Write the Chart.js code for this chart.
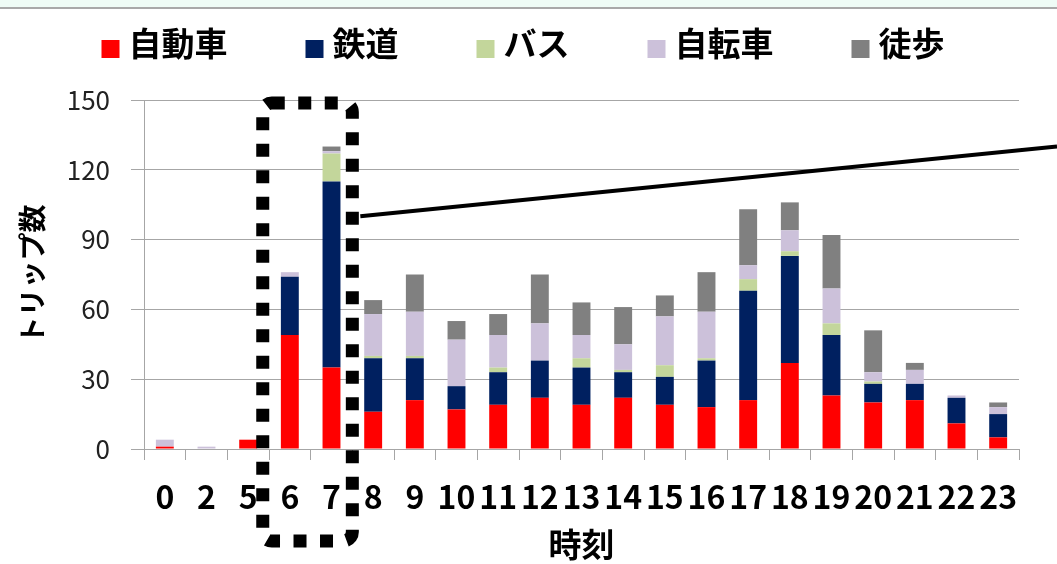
<!DOCTYPE html>
<html lang="ja">
<head>
<meta charset="utf-8">
<title>時刻別トリップ数</title>
<script src="https://cdn.jsdelivr.net/npm/chart.js@4.4.1/dist/chart.umd.min.js"></script>
<style>
  html, body { margin: 0; padding: 0; background: #ffffff; }
  body { width: 1057px; height: 564px; position: relative; overflow: hidden; }
  #band { position: absolute; left: 0; top: 0; width: 1057px; height: 7px;
          background: #effcf6; border-bottom: 2px solid #a9a9a9; }
  #wrap { position: absolute; left: 0; top: 0; width: 1057px; height: 564px; }
</style>
</head>
<body>
<div id="band"></div>
<div id="wrap"><canvas id="chart" width="1057" height="564"></canvas></div>
<script>
// 時刻（カテゴリ）
const hours = ['0', '2', '5', '6', '7', '8', '9', '10', '11', '12', '13', '14', '15', '16', '17', '18', '19', '20', '21', '22', '23'];

// 交通手段別トリップ数
const car     = [1, 0, 4, 49, 35, 16, 21, 17, 19, 22, 19, 22, 19, 18, 21, 37, 23, 20, 21, 11, 5];
const rail    = [0, 0, 0, 25, 80, 23, 18, 10, 14, 16, 16, 11, 12, 20, 47, 46, 26, 8, 7, 11, 10];
const bus     = [0, 0, 0, 0, 12, 1, 1, 0, 2, 0, 4, 1, 5, 1, 5, 2, 5, 1, 0, 0, 0];
const bicycle = [3, 1, 0, 2, 1, 18, 19, 20, 14, 16, 10, 11, 21, 20, 6, 9, 15, 4, 6, 1, 3];
const walk    = [0, 0, 0, 0, 2, 6, 16, 8, 9, 21, 14, 16, 9, 17, 24, 12, 23, 18, 3, 0, 2];

// 縦軸目盛
const yTicks = [0, 30, 60, 90, 120, 150];

// 強調する時間帯と引き出し線の高さ（値）
const highlightHours = ['6', '7'];
const calloutFrom = 100;
const calloutTo = 130;

const FONT = '"Noto Sans CJK JP", "Noto Sans", sans-serif';
const GRID = '#a6a6a6';

// 凡例（グラフ上部に1行で描画）
const legendRow = {
  id: 'legendRow',
  afterDraw(chart) {
    const ctx = chart.ctx;
    const size = 33, box = 18, gap = 9, spacing = 78;
    const centerX = 523, textY = 43, boxTop = 40;
    ctx.save();
    ctx.font = `bold ${size}px ${FONT}`;
    const items = chart.data.datasets.map(ds => ({
      text: ds.label, color: ds.backgroundColor, w: ctx.measureText(ds.label).width
    }));
    const total = items.reduce((s, it) => s + box + gap + it.w, 0) + spacing * (items.length - 1);
    let x = centerX - total / 2;
    ctx.textBaseline = 'middle';
    ctx.textAlign = 'left';
    for (const it of items) {
      ctx.fillStyle = it.color;
      ctx.fillRect(x, boxTop, box, box);
      ctx.fillStyle = '#000000';
      ctx.fillText(it.text, x + box + gap, textY);
      x += box + gap + it.w + spacing;
    }
    ctx.restore();
  }
};

// 強調枠（点線）と引き出し線
const highlight = {
  id: 'highlight',
  afterDraw(chart) {
    const {ctx, scales: {x, y}} = chart;
    const i0 = hours.indexOf(highlightHours[0]);
    const i1 = hours.indexOf(highlightHours[highlightHours.length - 1]);
    const step = x.getPixelForValue(1) - x.getPixelForValue(0);
    const left = x.getPixelForValue(i0) - 0.65 * step;
    const right = x.getPixelForValue(i1) + 0.5 * step;
    const top = y.getPixelForValue(yTicks[yTicks.length - 1]) + 3;
    const bottom = y.getPixelForValue(0) + 92;
    ctx.save();
    ctx.strokeStyle = '#000000';
    ctx.lineWidth = 13;
    ctx.setLineDash([13, 13.5]);
    ctx.beginPath();
    ctx.roundRect(left, top, right - left, bottom - top, 9);
    ctx.stroke();
    ctx.setLineDash([]);
    ctx.lineWidth = 4;
    ctx.beginPath();
    ctx.moveTo(right + 8, y.getPixelForValue(calloutFrom));
    ctx.lineTo(chart.width, y.getPixelForValue(calloutTo));
    ctx.stroke();
    ctx.restore();
  }
};

new Chart(document.getElementById('chart'), {
  type: 'bar',
  data: {
    labels: hours,
    datasets: [
      { label: '自動車', data: car,     backgroundColor: '#ff0000' },
      { label: '鉄道',   data: rail,    backgroundColor: '#002060' },
      { label: 'バス',   data: bus,     backgroundColor: '#c3d69b' },
      { label: '自転車', data: bicycle, backgroundColor: '#ccc1da' },
      { label: '徒歩',   data: walk,    backgroundColor: '#808080' }
    ]
  },
  options: {
    responsive: false,
    animation: false,
    devicePixelRatio: 1,
    layout: { padding: { top: 100, right: 38, bottom: 0, left: 0 } },
    datasets: { bar: { barPercentage: 0.43, categoryPercentage: 1.0, borderWidth: 0 } },
    plugins: {
      legend: { display: false },
      tooltip: { enabled: false }
    },
    scales: {
      x: {
        stacked: true,
        afterFit(scale) { scale.height = 115; },
        grid: { display: true, offset: true, drawOnChartArea: false, drawTicks: true,
                tickLength: 11, color: GRID, lineWidth: 1 },
        border: { display: true, color: GRID, width: 1 },
        ticks: { color: '#000000', padding: 18, maxRotation: 0, autoSkip: false,
                 font: { family: FONT, size: 32, weight: 'bold', lineHeight: 1.2 } },
        title: { display: true, text: '時刻', color: '#000000', padding: { top: 0, bottom: 0 },
                 font: { family: FONT, size: 33, weight: 'bold', lineHeight: 1.2 } }
      },
      y: {
        stacked: true,
        min: 0,
        max: 150,
        afterFit(scale) { scale.width = 144; },
        afterBuildTicks(scale) { scale.ticks = yTicks.map(v => ({ value: v })); },
        grid: { color: GRID, lineWidth: 1, drawTicks: true, tickLength: 13 },
        border: { display: true, color: GRID, width: 1 },
        ticks: { color: '#222222', padding: 21,
                 font: { family: FONT, size: 26, lineHeight: 1.2 } },
        title: { display: true, text: 'トリップ数', color: '#000000', padding: { top: 16, bottom: 0 },
                 font: { family: FONT, size: 28, weight: 'bold', lineHeight: 1.2 } }
      }
    }
  },
  plugins: [legendRow, highlight]
});
</script>
</body>
</html>
